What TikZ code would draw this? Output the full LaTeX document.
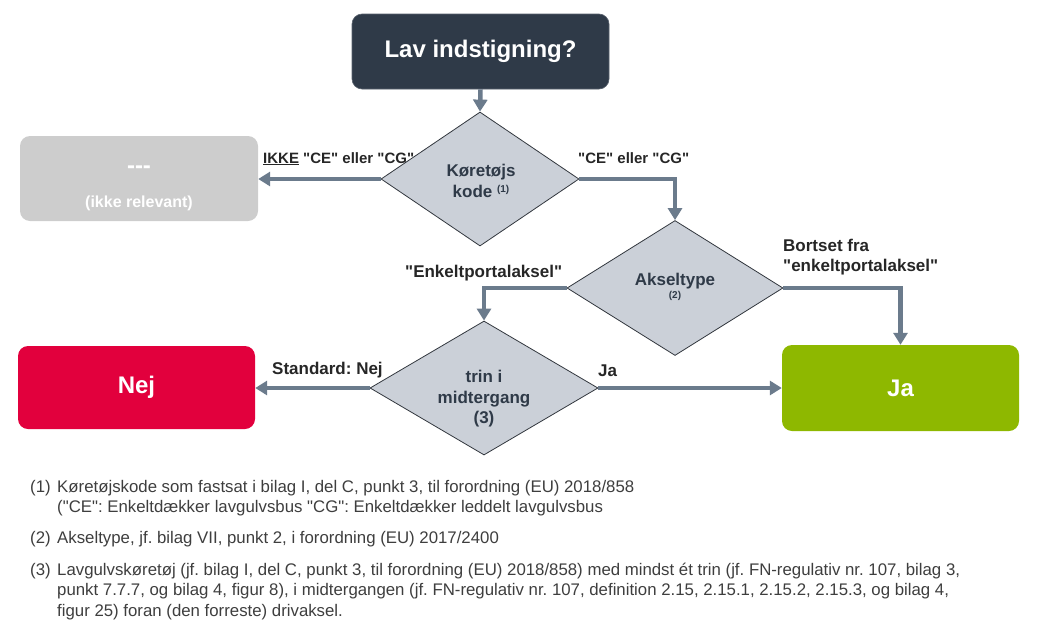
\documentclass[tikz,border=0pt]{standalone}
\usepackage{fontspec}
\setmainfont{Liberation Sans}[Ligatures=TeXOff]
\usetikzlibrary{shapes.geometric,arrows.meta}
\frenchspacing
\definecolor{topc}{RGB}{47,58,72}
\definecolor{diafill}{RGB}{203,208,216}
\definecolor{diaedge}{RGB}{50,55,62}
\definecolor{arrowc}{RGB}{107,123,140}
\definecolor{greyc}{RGB}{205,205,205}
\definecolor{nejc}{RGB}{226,0,61}
\definecolor{jac}{RGB}{142,184,0}
\definecolor{labc}{RGB}{38,38,38}
\definecolor{notec}{RGB}{62,62,62}
\newcommand\setfs[2]{\fontsize{#1}{#2}\selectfont}
\tikzset{
  boxbase/.style={rectangle, rounded corners=10pt, inner sep=0pt, text=white, font=\bfseries\setfs{24}{28}},
  topbox/.style={boxbase, fill=topc, draw=topc!80!white, line width=0.6pt, minimum width=257pt, minimum height=75pt},
  greybox/.style={boxbase, fill=greyc, minimum width=238pt, minimum height=85pt},
  nejbox/.style={boxbase, fill=nejc, minimum width=237pt, minimum height=83pt},
  jabox/.style={boxbase, fill=jac, minimum width=237pt, minimum height=86pt},
  greytext/.style={text=white, inner sep=0pt, font=\bfseries\setfs{16}{18}},
  dia/.style={diamond, draw=diaedge, line width=0.8pt, fill=diafill, inner sep=0pt},
  diatext/.style={text=topc, font=\bfseries\setfs{17}{20.5}, align=center, inner sep=0pt},
  elabel/.style={text=labc, font=\bfseries\setfs{15}{18}, inner sep=0pt, anchor=base west},
  elabelb/.style={text=labc, font=\bfseries\setfs{17}{20}, inner sep=0pt, anchor=base west},
  note/.style={text=notec, font=\setfs{16.8}{20}, inner sep=0pt, anchor=base west},
  arr/.style={draw=arrowc, line width=4.5pt, -{Triangle[length=12pt,width=14pt]}}
}
\begin{document}
\begin{tikzpicture}[x=1pt,y=-1pt]
\useasboundingbox (0,0) rectangle (1054,632);
% boxes
\node[topbox] (top) at (480.5,51.5) {Lav indstigning?};
\node[greybox] (na) at (139,178.5) {};
\node[greytext, font=\bfseries\setfs{24}{28}, anchor=base] (nat1) at (139,173) {---};
\node[greytext, anchor=base] (nat2) at (139,207) {(ikke relevant)};
\node[nejbox] (nej) at (136.5,387.5) {Nej};
\node[jabox] (ja) at (900.5,388) {Ja};
% diamonds
\node[dia, minimum width=198pt, minimum height=134pt] (d1) at (480,179) {};
\node[dia, minimum width=216pt, minimum height=135pt] (d2) at (675,288) {};
\node[dia, minimum width=228pt, minimum height=134pt] (d3) at (484,388) {};
\node[diatext] (t1) at (481,181) {Køretøjs\\kode {\setfs{10}{10}\raisebox{5pt}{(1)}}};
\node[diatext] (t2) at (675,287) {Akseltype\\[-7pt]{\setfs{10}{10}(2)}};
\node[diatext] (t3) at (484,399) {trin i\\midtergang\\(3)};
% connectors
\draw[arr] (top.south) -- (d1.north);
\draw[arr] (d1.west) -- (d1.west -| na.east);
\draw[arr] (d1.east) -| (d2.north);
\draw[arr] (d2.west) -| (d3.north);
\draw[arr] (d2.east) -| (ja.north);
\draw[arr] (d3.west) -- (d3.west -| nej.east);
\draw[arr] (d3.east) -- (d3.east -| ja.west);
% edge labels
\node[elabel] (l1) at (263,163) {\underline{IKKE} "CE" eller "CG"};
\node[elabel] (l2) at (578,163) {"CE" eller "CG"};
\node[elabelb] (l3) at (405,277) {"Enkeltportalaksel"};
\node[elabelb] (l4) at (783,251) {Bortset fra};
\node[elabelb] (l5) at (783,271) {"enkeltportalaksel"};
\node[elabelb] (l6) at (272,374) {Standard: Nej};
\node[elabelb] (l7) at (598,376) {Ja};
% footnotes
\node[note] (n1) at (30,492) {(1)};
\node[note] (n1a) at (57,492) {Køretøjskode som fastsat i bilag I, del C, punkt 3, til forordning (EU) 2018/858};
\node[note] (n1b) at (57,512) {("CE": Enkeltdækker lavgulvsbus "CG": Enkeltdækker leddelt lavgulvsbus};
\node[note] (n2) at (30,543) {(2)};
\node[note] (n2a) at (57,543) {Akseltype, jf. bilag VII, punkt 2, i forordning (EU) 2017/2400};
\node[note] (n3) at (30,575) {(3)};
\node[note] (n3a) at (57,575) {Lavgulvskøretøj (jf. bilag I, del C, punkt 3, til forordning (EU) 2018/858) med mindst ét trin (jf. FN-regulativ nr. 107, bilag 3,};
\node[note] (n3b) at (57,595.5) {punkt 7.7.7, og bilag 4, figur 8), i midtergangen (jf. FN-regulativ nr. 107, definition 2.15, 2.15.1, 2.15.2, 2.15.3, og bilag 4,};
\node[note] (n3c) at (57,616) {figur 25) foran (den forreste) drivaksel.};
\end{tikzpicture}
\end{document}
